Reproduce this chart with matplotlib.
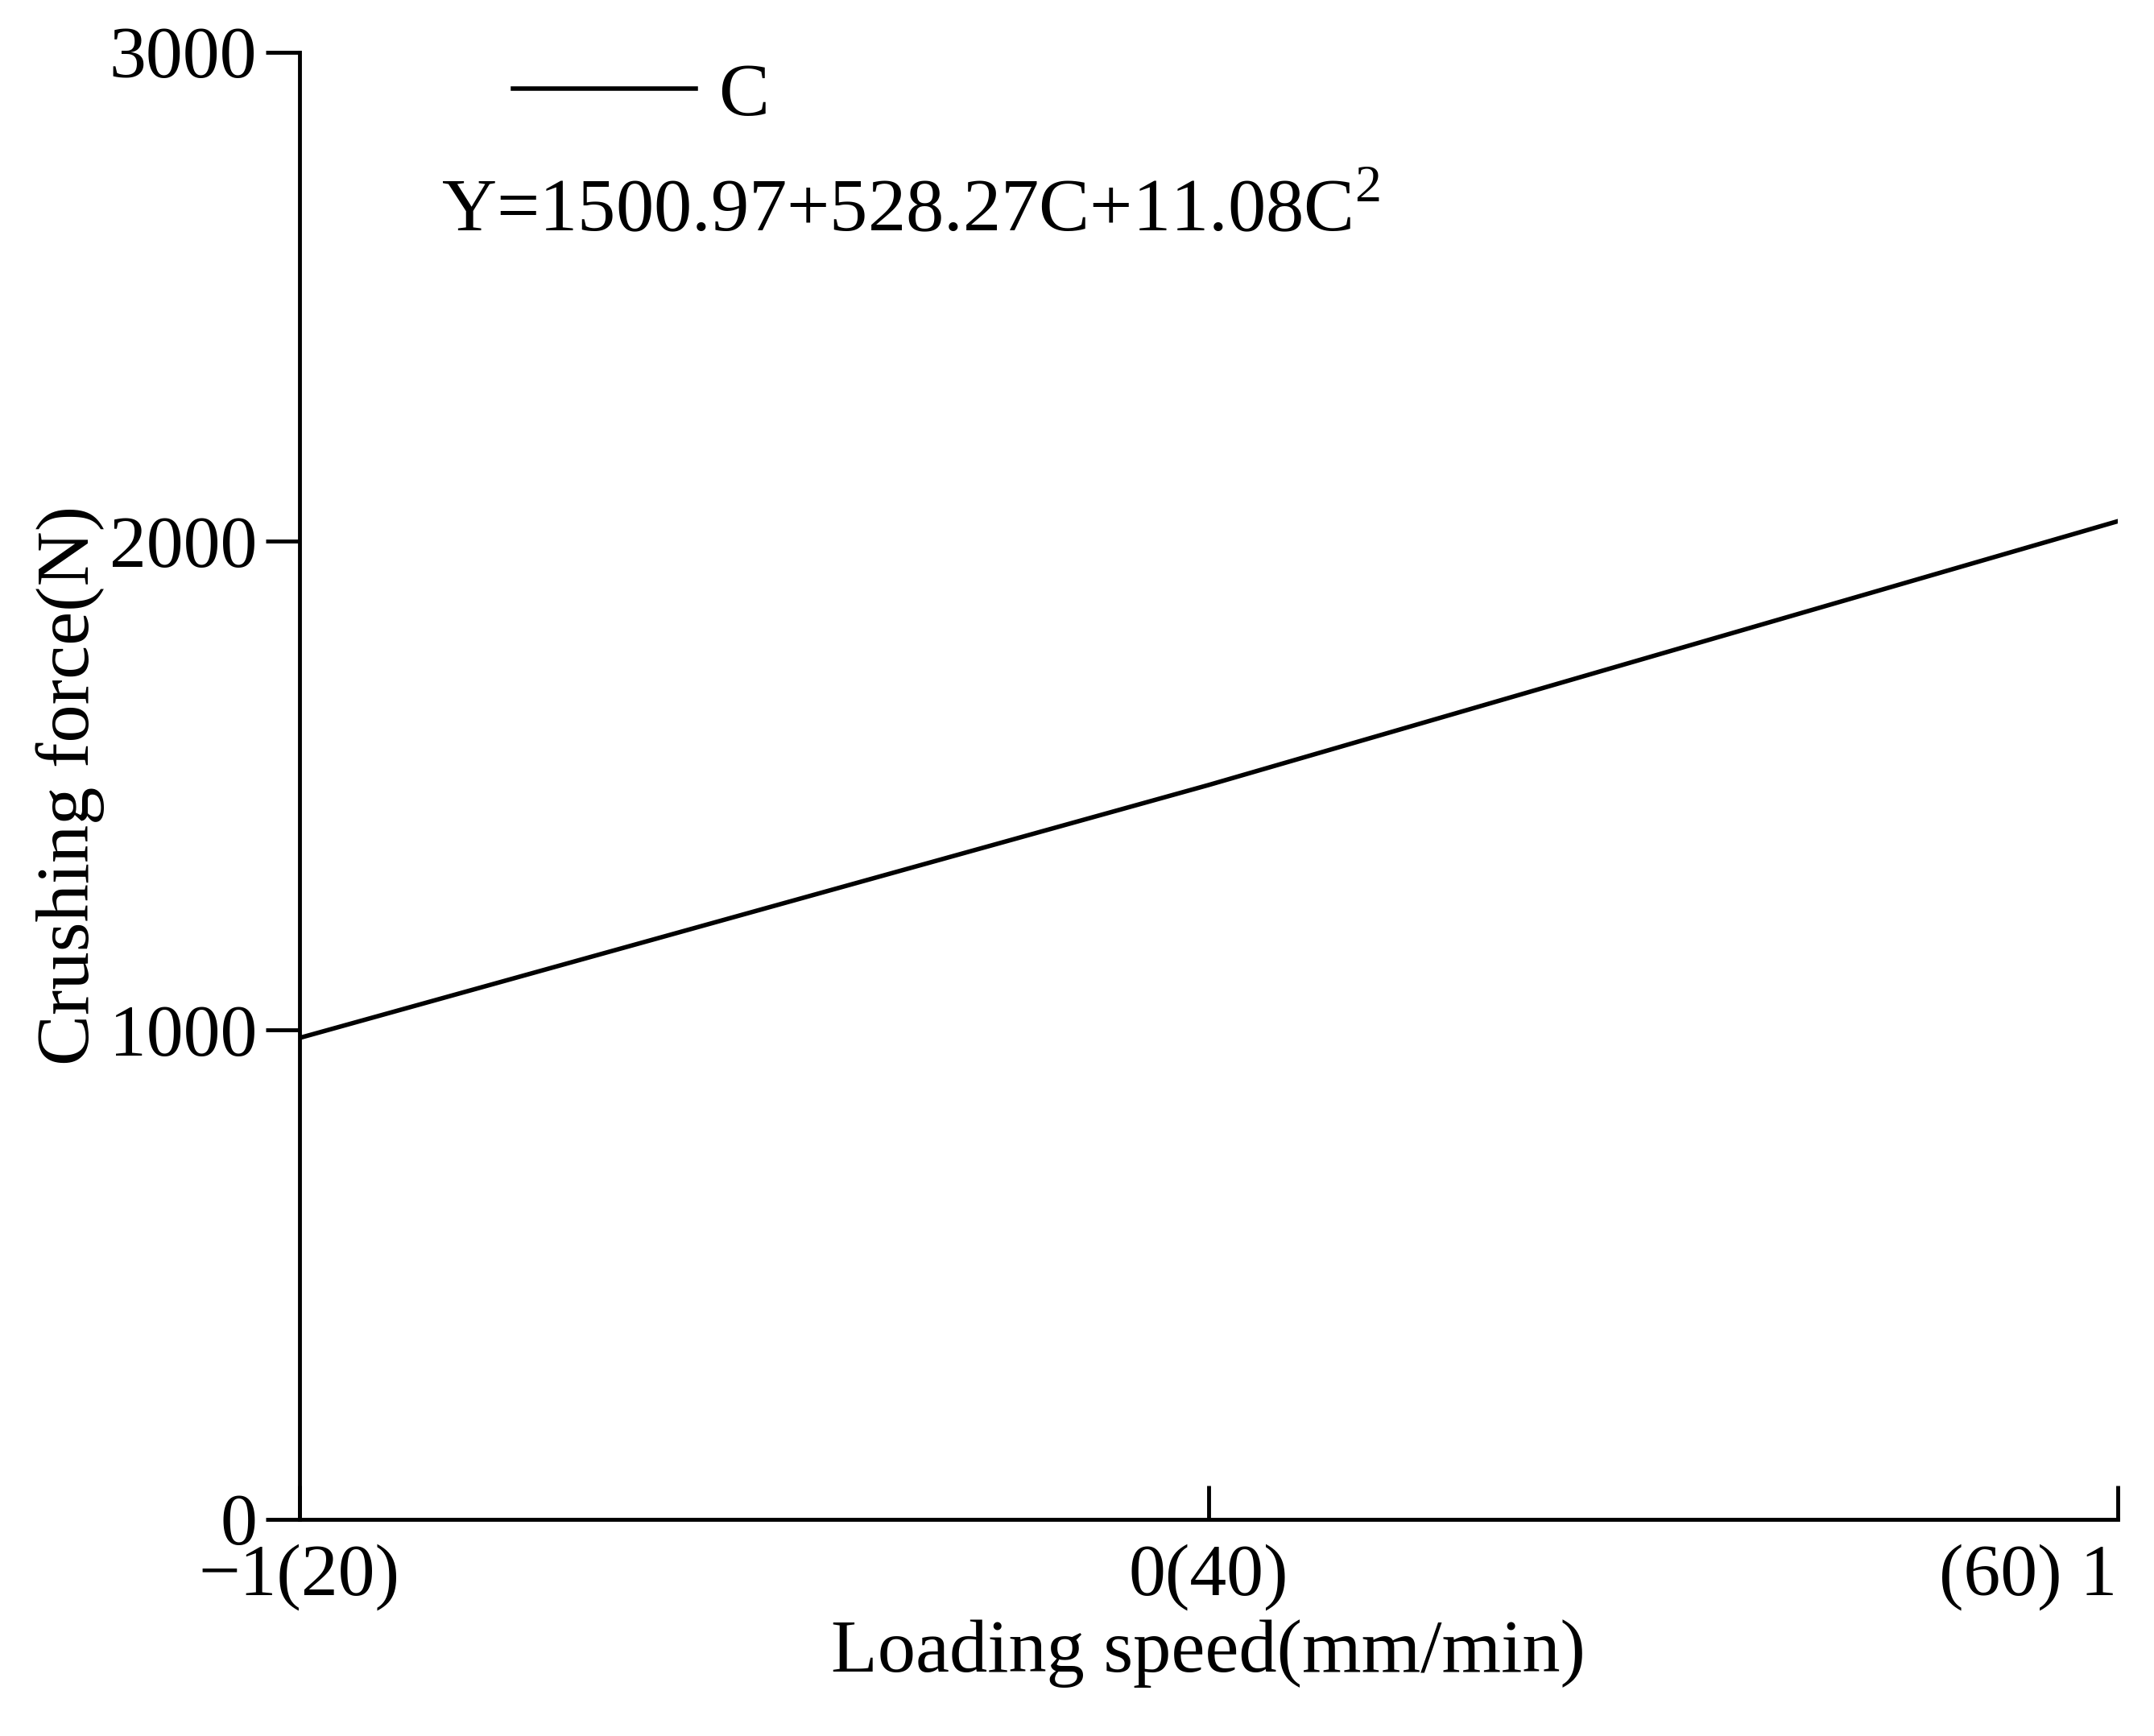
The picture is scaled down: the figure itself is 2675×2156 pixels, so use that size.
import matplotlib
matplotlib.use("Agg")
import matplotlib.pyplot as plt

plt.rcParams['font.family'] = ['Liberation Serif', 'DejaVu Serif']
plt.rcParams['mathtext.fontset'] = 'custom'
plt.rcParams['mathtext.rm'] = 'Liberation Serif'

x_coded = [-1, 0, 1]
force = [983.78, 1500.97, 2040.32]
xtick_labels = ['\u22121(20)', '0(40)', '(60) 1']
yticks = [0, 1000, 2000, 3000]

fig = plt.figure(figsize=(26.75, 21.56), dpi=100)
ax = fig.add_axes([0.139, 0.125, 0.844, 0.845])
ax.plot(x_coded, force, color='black', lw=4, label='C')
ax.set_xlim(-1, 1)
ax.set_ylim(0, 3000)
ax.set_xticks(x_coded)
ax.set_xticklabels(xtick_labels)
lbls = ax.get_xticklabels()
lbls[2].set_ha('right')
lbls[2].set_x(1.0)
ax.set_yticks(yticks)
for s in ['top', 'right']:
    ax.spines[s].set_visible(False)
for s in ['left', 'bottom']:
    ax.spines[s].set_linewidth(3.5)
ax.tick_params(axis='x', direction='in', length=30, width=3.5, labelsize=66, pad=22)
ax.tick_params(axis='y', direction='out', length=30, width=3.5, labelsize=66, pad=8)
ax.set_xlabel('Loading speed(mm/min)', fontsize=68, labelpad=8)
ax.set_ylabel('Crushing force(N)', fontsize=68, labelpad=4)
ax.legend(loc='upper left', bbox_to_anchor=(0.08, 1.04), frameon=False, fontsize=68,
          handlelength=2.4, handletextpad=0.3)
ax.text(0.078, 0.89, 'Y=1500.97+528.27C+11.08C$^{2}$', transform=ax.transAxes,
        fontsize=68, va='center', ha='left')
fig.savefig('out.png', dpi=100)
